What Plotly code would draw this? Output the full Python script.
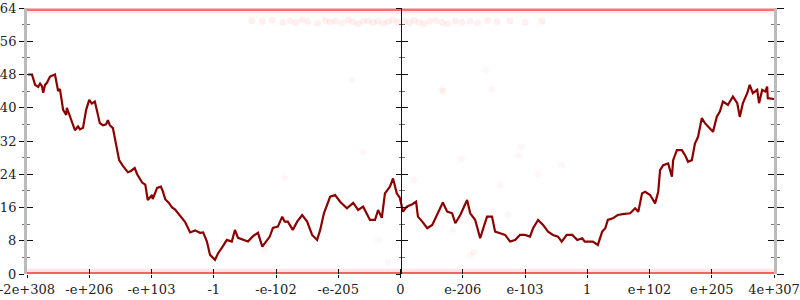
import plotly.graph_objects as go

# x axis: evenly spaced tick positions on the (bit-ordered) float scale
tick_pos = [0, 1, 2, 3, 4, 5, 6, 7, 8, 9, 10, 11, 12]
tick_text = ["-2e+308", "-e+206", "-e+103", "-1", "-e-102", "-e-205", "0",
             "e-206", "e-103", "1", "e+102", "e+205", "4e+307"]
y_ticks = [0, 8, 16, 24, 32, 40, 48, 56, 64]

# main series (position on the float scale, value)
line_x = [0.02, 0.08, 0.13, 0.18, 0.21, 0.24, 0.26, 0.29, 0.32, 0.37, 0.42, 0.45,
          0.50, 0.53, 0.58, 0.63, 0.64, 0.69, 0.77, 0.82, 0.85, 0.90, 0.95, 1.00,
          1.04, 1.09, 1.17, 1.22, 1.27, 1.30, 1.33, 1.38, 1.43, 1.48, 1.54, 1.62,
          1.67, 1.73, 1.77, 1.85, 1.90, 1.94, 2.01, 2.02, 2.09, 2.15, 2.18, 2.22,
          2.28, 2.33, 2.38, 2.46, 2.54, 2.62, 2.70, 2.78, 2.83, 2.89, 2.94, 3.02,
          3.07, 3.13, 3.21, 3.29, 3.34, 3.39, 3.47, 3.55, 3.63, 3.71, 3.78, 3.86,
          3.90, 3.95, 4.03, 4.10, 4.14, 4.19, 4.27, 4.34, 4.42, 4.50, 4.58, 4.66,
          4.71, 4.77, 4.87, 4.95, 5.03, 5.14, 5.24, 5.32, 5.40, 5.51, 5.59, 5.64,
          5.70, 5.75, 5.83, 5.88, 5.94, 5.99, 6.04, 6.10, 6.19, 6.25, 6.28, 6.35,
          6.43, 6.51, 6.59, 6.68, 6.75, 6.83, 6.88, 6.96, 7.07, 7.12, 7.20, 7.28,
          7.33, 7.39, 7.47, 7.52, 7.60, 7.68, 7.76, 7.84, 7.92, 8.00, 8.08, 8.13,
          8.21, 8.29, 8.37, 8.45, 8.53, 8.59, 8.67, 8.76, 8.84, 8.92, 8.96, 9.01,
          9.09, 9.17, 9.24, 9.29, 9.33, 9.41, 9.49, 9.57, 9.69, 9.77, 9.82, 9.88,
          9.93, 10.01, 10.09, 10.14, 10.17, 10.22, 10.30, 10.36, 10.38, 10.44, 10.52, 10.57,
          10.62, 10.68, 10.73, 10.78, 10.84, 10.89, 10.94, 11.02, 11.08, 11.13, 11.18, 11.26,
          11.34, 11.41, 11.45, 11.50, 11.57, 11.61, 11.66, 11.73, 11.76, 11.81, 11.86, 11.89,
          11.90, 12.00]
line_y = [48.0, 48.0, 45.5, 45.0, 45.8, 45.2, 43.6, 45.5, 46.0, 47.5, 47.8, 48.0,
          44.0, 44.5, 39.5, 38.3, 40.0, 38.0, 34.6, 35.5, 34.8, 35.2, 39.5, 41.9,
          41.0, 41.5, 36.3, 35.8, 36.0, 37.0, 35.8, 35.1, 31.5, 27.4, 26.0, 24.5,
          24.8, 25.5, 24.0, 22.0, 21.5, 17.8, 19.0, 18.0, 20.7, 21.0, 20.0, 18.0,
          17.1, 16.0, 15.5, 14.0, 12.5, 10.0, 10.5, 9.9, 10.0, 7.8, 4.6, 3.4,
          5.0, 6.3, 8.2, 7.8, 10.6, 8.7, 8.2, 7.8, 9.1, 9.9, 6.6, 8.2,
          9.0, 11.1, 11.4, 13.8, 12.6, 12.6, 10.6, 12.6, 14.2, 12.6, 9.4, 8.2,
          10.6, 14.6, 18.6, 19.0, 17.4, 15.8, 17.1, 15.4, 16.2, 13.0, 13.0, 15.4,
          13.5, 19.4, 21.0, 23.0, 19.4, 18.3, 15.0, 16.2, 16.8, 17.4, 13.8, 12.6,
          11.0, 11.8, 14.2, 17.2, 15.0, 14.6, 12.2, 14.2, 17.8, 14.6, 13.0, 8.6,
          11.0, 13.8, 13.8, 10.2, 9.8, 9.4, 7.8, 8.2, 9.4, 9.4, 9.0, 11.0,
          13.0, 11.8, 10.2, 9.4, 9.0, 7.8, 9.4, 9.4, 8.2, 8.6, 7.8, 7.8,
          7.8, 7.0, 10.2, 11.0, 13.0, 13.4, 14.2, 14.4, 14.6, 15.8, 15.0, 19.4,
          19.8, 19.0, 17.0, 19.8, 25.0, 26.2, 26.6, 23.4, 27.4, 29.8, 29.8, 28.6,
          27.0, 27.4, 31.4, 33.0, 37.5, 36.3, 35.4, 34.2, 37.8, 39.1, 41.5, 40.7,
          42.7, 41.1, 37.8, 41.1, 43.5, 45.5, 43.5, 44.3, 41.1, 44.3, 43.9, 45.1,
          42.3, 42.1]

# faint background samples
top_band_x = [0, 12]
top_band_y = [63.6, 63.6]
top_row_y = [63.1, 63.1]
bottom_band_x = [0, 12]
bottom_band_y = [0.2, 0.2]
bottom_row_y = [0.8, 0.8]

mid_pts_x = [3.61, 3.78, 3.94, 4.11, 4.23, 4.32, 4.42, 4.51, 4.67, 4.79, 4.87, 4.96,
             5.06, 5.16, 5.24, 5.32, 5.40, 5.48, 5.56, 5.64, 5.72, 5.80, 5.88, 5.96,
             6.06, 6.14, 6.22, 6.30, 6.38, 6.47, 6.57, 6.67, 6.76, 6.88, 6.99, 7.12,
             7.24, 7.40, 7.55, 7.76, 8.00, 8.27]
mid_pts_y = [61.0, 60.8, 61.1, 60.6, 60.9, 60.5, 61.2, 60.7, 60.3, 61.0, 60.6, 60.9,
             60.4, 61.1, 60.7, 60.2, 60.8, 61.0, 60.5, 60.9, 60.3, 60.7, 61.1, 60.6,
             60.9, 60.4, 61.0, 60.6, 60.2, 60.8, 61.0, 60.5, 60.3, 60.9, 60.6, 60.8,
             60.4, 61.0, 60.7, 60.9, 60.6, 60.8]

scatter_x = [6.68, 7.37, 7.47, 6.98, 6.21, 7.60, 7.89, 7.95, 8.21, 8.59, 7.73,
             6.84, 7.12, 7.18, 4.14, 5.40, 5.64, 5.80, 3.82, 5.22, 6.67]
scatter_y = [44.0, 49.1, 44.5, 27.7, 22.6, 21.4, 28.6, 30.6, 24.1, 26.2, 14.2,
             10.6, 4.6, 5.3, 23.1, 29.4, 8.2, 2.9, 5.8, 46.7, 44.3]

serif = "DejaVu Serif"
fig = go.Figure()

fig.add_trace(go.Scatter(x=top_band_x, y=top_row_y, mode="lines",
                         line=dict(color="rgba(255,0,0,0.08)", width=4),
                         hoverinfo="skip", showlegend=False))
fig.add_trace(go.Scatter(x=top_band_x, y=top_band_y, mode="lines",
                         line=dict(color="rgba(230,30,30,0.6)", width=2.5),
                         hoverinfo="skip", showlegend=False))
fig.add_trace(go.Scatter(x=bottom_band_x, y=bottom_row_y, mode="lines",
                         line=dict(color="rgba(255,0,0,0.10)", width=4),
                         hoverinfo="skip", showlegend=False))
fig.add_trace(go.Scatter(x=bottom_band_x, y=bottom_band_y, mode="lines",
                         line=dict(color="rgba(235,40,40,0.7)", width=2.5),
                         hoverinfo="skip", showlegend=False))
fig.add_trace(go.Scatter(x=mid_pts_x, y=mid_pts_y, mode="markers",
                         marker=dict(color="rgba(255,0,0,0.06)", size=7, line=dict(width=0)),
                         hoverinfo="skip", showlegend=False))
fig.add_trace(go.Scatter(x=scatter_x, y=scatter_y, mode="markers",
                         marker=dict(color="rgba(255,0,0,0.035)", size=7, line=dict(width=0)),
                         hoverinfo="skip", showlegend=False))
fig.add_trace(go.Scatter(x=line_x, y=line_y, mode="lines",
                         line=dict(color="#8b0000", width=2.2),
                         hoverinfo="skip", showlegend=False))

tickfont = dict(family=serif, size=13, color="#222222")
yr = [0, 64]
common_y = dict(range=yr, tickvals=y_ticks, showgrid=False, zeroline=False,
                tickcolor="#111111", tickwidth=1, automargin=False)

layout = dict(
    width=800, height=300,
    margin=dict(l=27, r=26, t=8, b=26, autoexpand=False),
    paper_bgcolor="white", plot_bgcolor="white",
    showlegend=False,
    xaxis=dict(range=[0, 12], tickvals=tick_pos, ticktext=tick_text,
               ticks="outside", ticklen=3, tickcolor="#111111", tickwidth=1,
               showgrid=False, zeroline=False, showline=False, automargin=False,
               tickfont=tickfont, ticklabelstandoff=0, ticklabeloverflow="allow"),
    xaxis2=dict(range=[0, 12], tickvals=tick_pos, overlaying="x", anchor="y",
                side="bottom", ticks="inside", ticklen=5, tickcolor="#111111",
                tickwidth=1, showticklabels=False, showgrid=False, automargin=False,
                zeroline=False, showline=False),
    yaxis=dict(**common_y, ticks="outside", ticklen=5, showline=True,
               linecolor="#bbbbbb", linewidth=3, tickfont=tickfont,
               ticklabeloverflow="allow",
               minor=dict(dtick=4, ticks="outside", ticklen=2, tickcolor="#777777")),
    yaxis2=dict(**common_y, overlaying="y", side="left", anchor="x",
                ticks="inside", ticklen=6, showticklabels=False, showline=False,
                minor=dict(dtick=4, ticks="inside", ticklen=3, tickcolor="#777777")),
    yaxis3=dict(**common_y, overlaying="y", side="right", anchor="x",
                ticks="outside", ticklen=7, showticklabels=False, showline=True,
                linecolor="#bbbbbb", linewidth=3,
                minor=dict(dtick=4, ticks="outside", ticklen=3, tickcolor="#777777")),
    yaxis4=dict(**common_y, overlaying="y", side="right", anchor="x",
                ticks="inside", ticklen=6, showticklabels=False, showline=False,
                minor=dict(dtick=4, ticks="inside", ticklen=3, tickcolor="#777777")),
    yaxis5=dict(**common_y, overlaying="y", side="left", anchor="free", position=0.5,
                ticks="outside", ticklen=5, showticklabels=False, showline=True,
                linecolor="#111111", linewidth=1,
                minor=dict(dtick=4, ticks="outside", ticklen=2, tickcolor="#777777")),
    yaxis6=dict(**common_y, overlaying="y", side="left", anchor="free", position=0.5,
                ticks="inside", ticklen=6, showticklabels=False, showline=False,
                minor=dict(dtick=4, ticks="inside", ticklen=3, tickcolor="#777777")),
)
fig.update_layout(**layout)
# attach invisible traces so the overlay axes are drawn
for ax_x, ax_y in [("x2", "y"), ("x", "y2"), ("x", "y3"), ("x", "y4"), ("x", "y5"), ("x", "y6")]:
    fig.add_trace(go.Scatter(x=[None], y=[None], xaxis=ax_x, yaxis=ax_y,
                             mode="lines", hoverinfo="skip", showlegend=False))

fig.write_html("out.html")
